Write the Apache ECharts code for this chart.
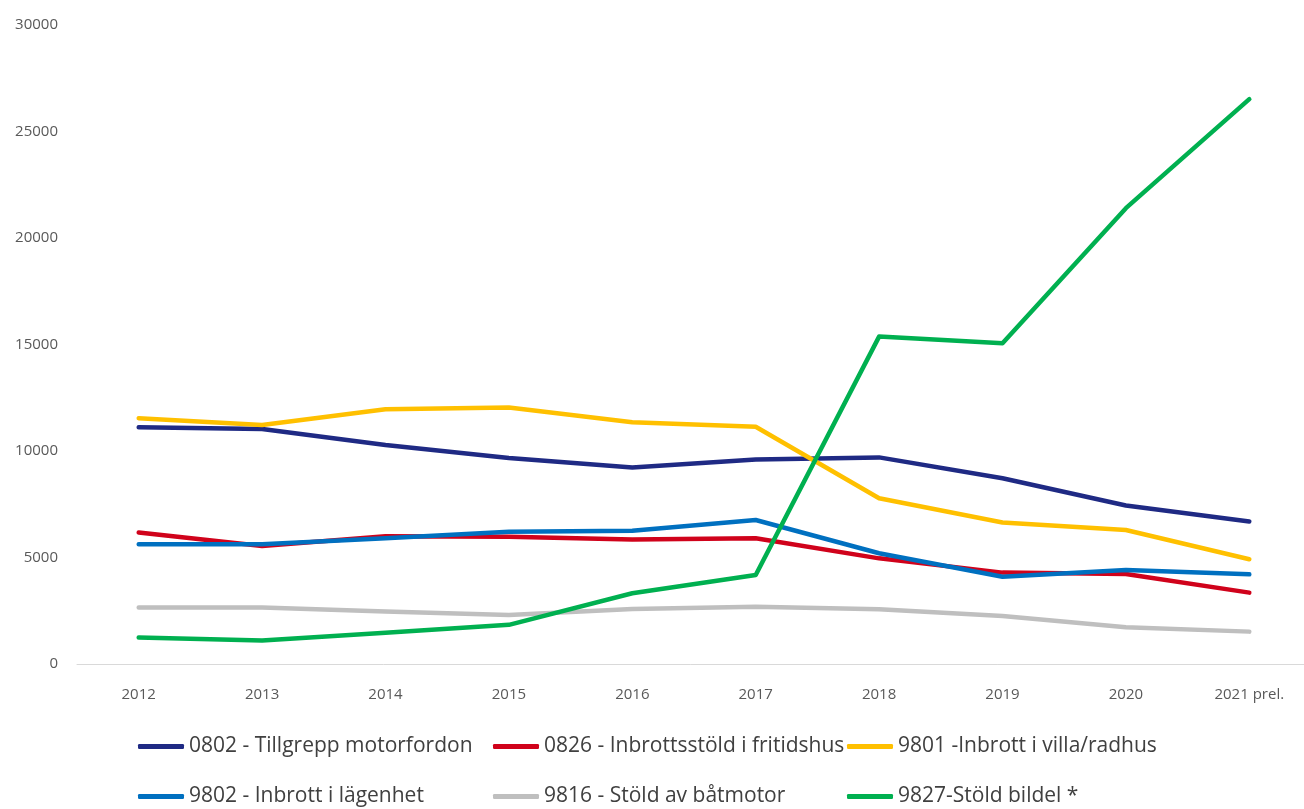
<!DOCTYPE html>
<html>
<head>
<meta charset="utf-8">
<script src="https://cdn.jsdelivr.net/npm/echarts@6/dist/echarts.min.js"></script>
<style>
  html, body { margin: 0; padding: 0; background: #ffffff; }
  #chart { width: 1304px; height: 809px; }
</style>
</head>
<body>
<div id="chart"></div>
<script>
const categories = ['2012', '2013', '2014', '2015', '2016', '2017', '2018', '2019', '2020', '2021 prel.'];
const yTicks = [0, 5000, 10000, 15000, 20000, 25000, 30000];

const names = [
  '0802 - Tillgrepp motorfordon',
  '0826 - Inbrottsstöld i fritidshus',
  '9801 -Inbrott i villa/radhus',
  '9802 - Inbrott i lägenhet',
  '9816 - Stöld av båtmotor',
  '9827-Stöld bildel *'
];

const tillgreppMotorfordon = [11110, 11030, 10280, 9670, 9220, 9600, 9700, 8720, 7440, 6690];
const inbrottFritidshus   = [6170, 5540, 6000, 5980, 5850, 5900, 4960, 4290, 4230, 3350];
const inbrottVilla        = [11540, 11220, 11960, 12040, 11350, 11140, 7780, 6640, 6290, 4920];
const inbrottLagenhet     = [5620, 5620, 5900, 6210, 6260, 6760, 5200, 4100, 4410, 4210];
const stoldBatmotor       = [2650, 2650, 2460, 2300, 2580, 2690, 2570, 2250, 1720, 1520];
const stoldBildel         = [1240, 1100, 1470, 1840, 3320, 4180, 15370, 15060, 21400, 26520];

const seriesData = [tillgreppMotorfordon, inbrottFritidshus, inbrottVilla, inbrottLagenhet, stoldBatmotor, stoldBildel];
const colors = ['#1f2a84', '#d0021b', '#ffc000', '#0070c0', '#bfbfbf', '#00b050'];

const chart = echarts.init(document.getElementById('chart'), null, { renderer: 'canvas' });

const fontFam = '"Open Sans", sans-serif';
const legendLefts = [138, 493, 847];
const legendTops = [736, 786];

const legends = names.map((n, i) => ({
  data: [n],
  left: legendLefts[i % 3],
  top: legendTops[Math.floor(i / 3)],
  padding: 0,
  itemWidth: 46,
  itemHeight: 5,
  icon: 'roundRect',
  textStyle: {
    fontFamily: fontFam,
    fontSize: 21,
    color: '#404040'
  }
}));

chart.setOption({
  animation: false,
  backgroundColor: '#ffffff',
  color: colors,
  grid: {
    left: 77,
    right: -7,
    top: 25,
    bottom: 145,
    containLabel: false,
    outerBoundsMode: 'none'
  },
  legend: legends,
  xAxis: {
    type: 'category',
    data: categories,
    boundaryGap: true,
    axisLine: { show: true, lineStyle: { color: '#d9d9d9', width: 1 } },
    axisTick: { show: false },
    axisLabel: {
      margin: 23,
      fontFamily: fontFam,
      fontSize: 15,
      color: '#595959'
    },
    splitLine: { show: false }
  },
  yAxis: {
    type: 'value',
    min: yTicks[0],
    max: yTicks[yTicks.length - 1],
    interval: yTicks[1] - yTicks[0],
    axisLine: { show: false },
    axisTick: { show: false },
    splitLine: { show: false },
    axisLabel: {
      margin: 19,
      fontFamily: fontFam,
      fontSize: 15,
      color: '#595959',
      formatter: v => String(v)
    }
  },
  series: names.map((n, i) => ({
    name: n,
    type: 'line',
    data: seriesData[i],
    symbol: 'none',
    smooth: false,
    lineStyle: { width: 4.5, color: colors[i], cap: 'round', join: 'round' },
    itemStyle: { color: colors[i] },
    z: 2 + i
  }))
});
</script>
</body>
</html>
